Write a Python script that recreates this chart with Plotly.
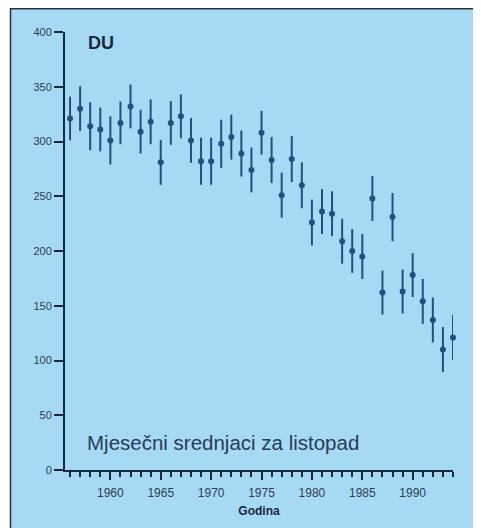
import plotly.graph_objects as go

years = list(range(1956, 1995))
du_values = [321, 330, 314, 311, 301, 317, 332, 309, 318, 281,
             317, 323, 301, 282, 282, 298, 304, 289, 274, 308,
             283, 251, 284, 260, 226, 236, 234, 209, 200, 195,
             248, 162, 231, 163, 178, 154, 137, 110, 121]
du_errors = [20, 20.5, 22, 20, 22, 19.5, 20, 20, 20.5, 20.5,
             20, 20, 20.5, 21.5, 21.5, 22, 20.5, 21, 20.5, 20,
             21, 20.5, 21, 21, 21, 20.5, 20.5, 20.5, 20, 20.5,
             20.5, 20, 22, 20, 20, 20.5, 20.5, 20.5, 20.5]
y_ticks = [0, 50, 100, 150, 200, 250, 300, 350, 400]
x_ticks = [1960, 1965, 1970, 1975, 1980, 1985, 1990]

BLUE_BG = "rgb(166,218,244)"
DARK = "rgb(24,40,64)"
MARK = "rgb(36,78,128)"
TICKTXT = "rgb(45,60,80)"

# page body has an 8px margin; work in figure coordinates = window - 8
OFF = 8
W, H = 481 - OFF, 528 - OFF
ML, MR, MT, MB = 65 - OFF, W - (453 - OFF), 32 - OFF, H - (470 - OFF)
pw, ph = W - ML - MR, H - MT - MB

def px_x(p):
    return (p - OFF - ML) / pw

def px_y(p):
    return 1 - (p - OFF - MT) / ph

fig = go.Figure()
fig.add_trace(go.Scatter(
    x=years, y=du_values, mode="markers",
    marker=dict(color=MARK, size=6),
    error_y=dict(type="data", array=du_errors, visible=True,
                 color=MARK, thickness=2, width=0),
    cliponaxis=False, showlegend=False,
))

fig.update_layout(
    width=W, height=H,
    margin=dict(l=ML, r=MR, t=MT, b=MB),
    paper_bgcolor=BLUE_BG,
    plot_bgcolor=BLUE_BG,
    font=dict(family="Liberation Sans, Arial, sans-serif", color=DARK),
    shapes=[
        # white strip left of the frame
        dict(type="rect", xref="paper", yref="paper",
             x0=px_x(OFF - 2), x1=px_x(10), y0=px_y(540), y1=px_y(0),
             fillcolor="white", line=dict(width=0), layer="above"),
        # frame lines
        dict(type="line", xref="paper", yref="paper",
             x0=px_x(10.5), x1=px_x(10.5), y0=px_y(540), y1=px_y(OFF),
             line=dict(color="rgb(40,50,60)", width=1.5), layer="above"),
        dict(type="line", xref="paper", yref="paper",
             x0=px_x(10.5), x1=px_x(490), y0=px_y(OFF + 0.7), y1=px_y(OFF + 0.7),
             line=dict(color="rgb(40,50,60)", width=1.5), layer="above"),
    ],
    xaxis=dict(range=[1955.5, 1994], showgrid=False, zeroline=False,
               showline=True, linecolor=DARK, linewidth=2,
               tickmode="array", tickvals=x_ticks, ticktext=[str(t) for t in x_ticks],
               ticks="outside", ticklen=8, tickwidth=2, tickcolor=DARK,
               ticklabelstandoff=3,
               minor=dict(dtick=1, tick0=1956, ticks="outside", ticklen=5,
                          tickwidth=1.5, tickcolor=DARK),
               tickfont=dict(size=12, color=TICKTXT),
               title=dict(text="<b>Godina</b>", font=dict(size=12, color=DARK),
                          standoff=7)),
    yaxis=dict(range=[0, 400], showgrid=False, zeroline=False,
               showline=True, linecolor=DARK, linewidth=2,
               tickmode="array", tickvals=y_ticks,
               ticks="outside", ticklen=9, tickwidth=2, tickcolor=DARK,
               tickfont=dict(size=11, color=TICKTXT)),
    annotations=[
        dict(text="<b>DU</b>", xref="paper", yref="paper",
             x=px_x(86), y=px_y(43), xanchor="left", yanchor="middle",
             showarrow=False, font=dict(size=18, color=DARK)),
        dict(text="Mjesečni srednjaci za listopad", xref="paper", yref="paper",
             x=px_x(85), y=px_y(442), xanchor="left", yanchor="middle",
             showarrow=False, font=dict(size=20.5, color="rgb(40,60,85)")),
    ],
)

fig.write_html("out.html")
